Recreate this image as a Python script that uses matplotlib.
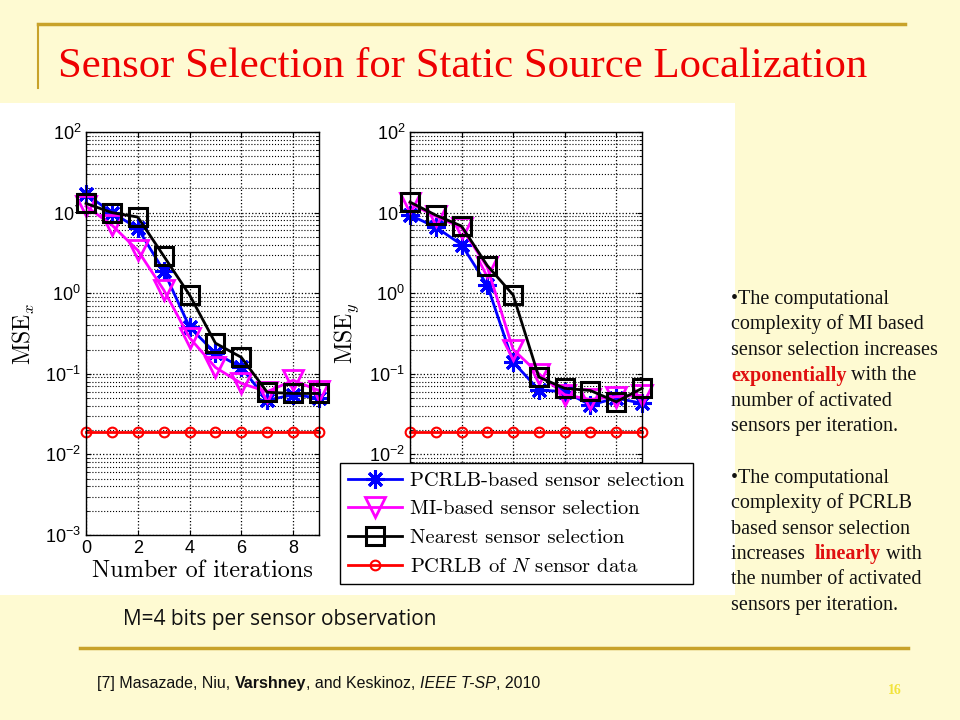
import numpy as np
import matplotlib
matplotlib.use("Agg")
import matplotlib.pyplot as plt
from matplotlib.patches import Rectangle
from matplotlib.lines import Line2D

# datos (MSE vs iteraciones)
iters = np.arange(10)
msex_pcrlb = [17, 10, 6.4, 1.9, 0.38, 0.18, 0.12, 0.047, 0.055, 0.05]
msex_mi = [12, 7, 3.4, 1.1, 0.28, 0.12, 0.076, 0.06, 0.083, 0.062]
msex_nearest = [13, 10, 8.8, 2.9, 0.95, 0.24, 0.16, 0.059, 0.057, 0.057]
msex_bound = [0.019] * 10

msey_pcrlb = [9.3, 6.6, 4.0, 1.25, 0.14, 0.063, 0.06, 0.041, 0.05, 0.043]
msey_mi = [13, 9, 6.5, 2.1, 0.2, 0.1, 0.055, 0.048, 0.052, 0.054]
msey_nearest = [13.5, 9.3, 6.8, 2.2, 0.95, 0.091, 0.066, 0.062, 0.045, 0.066]
msey_bound = [0.019] * 10

labels = ["PCRLB-based sensor selection", "MI-based sensor selection",
          "Nearest sensor selection", "PCRLB of $N$ sensor data"]

plt.rcParams["font.family"] = ["Liberation Sans", "DejaVu Sans"]
plt.rcParams["mathtext.fontset"] = "cm"

W, H = 960, 720
bg = "#FEFAD2"
gold = "#C8A22A"

fig = plt.figure(figsize=(9.6, 7.2), dpi=100)
fig.patch.set_facecolor(bg)


def fx(px):
    return px / W


def fy(py):
    return 1 - py / H


# zona blanca de la imagen
fig.patches.append(Rectangle((0, fy(595)), fx(735), (595 - 103) / H,
                             transform=fig.transFigure, facecolor="white",
                             edgecolor="none", zorder=-5))

# lineas decorativas de la diapositiva
fig.add_artist(Line2D([fx(38), fx(905)], [fy(24), fy(24)], color=gold, lw=2.5))
fig.add_artist(Line2D([fx(38), fx(38)], [fy(24), fy(88)], color=gold, lw=1.5))
fig.add_artist(Line2D([fx(80), fx(908)], [fy(648), fy(648)], color=gold, lw=2.5))

fig.text(fx(58), fy(77), "Sensor Selection for Static Source Localization",
         color="#EE0000", family="Liberation Serif", size=30.8, va="baseline")


def style_axes(ax):
    ax.set_yscale("log")
    ax.set_xlim(0, 9)
    ax.set_ylim(1e-3, 1e2)
    ax.set_xticks([0, 2, 4, 6, 8])
    ax.tick_params(which="both", direction="in", top=True, right=True,
                   labelsize=13)
    ax.grid(True, which="major", ls=":", color="k", lw=0.9)
    ax.yaxis.grid(True, which="minor", ls=":", color="k", lw=0.8)
    for s in ax.spines.values():
        s.set_linewidth(1.0)


def plot_set(ax, pcrlb, mi, nearest, bound):
    ax.plot(iters, pcrlb, color="blue", lw=2, marker=(8, 2, 0), ms=13,
            mew=2.2, label=labels[0], clip_on=False)
    ax.plot(iters, mi, color="magenta", lw=2, marker="v", ms=14,
            mfc="none", mew=2, label=labels[1], clip_on=False)
    ax.plot(iters, nearest, color="black", lw=2, marker="s", ms=13,
            mfc="none", mew=2.2, label=labels[2], clip_on=False)
    ax.plot(iters, bound, color="red", lw=2, marker="o", ms=7,
            mfc="none", mew=1.5, label=labels[3], clip_on=False)


ax1 = fig.add_axes([fx(86), fy(535), (319 - 86) / W, (535 - 132) / H])
plot_set(ax1, msex_pcrlb, msex_mi, msex_nearest, msex_bound)
style_axes(ax1)
ax1.set_ylabel(r"$\mathrm{MSE}_x$", fontsize=17, labelpad=6)
ax1.set_xlabel("Number of iterations", family="cmr10", fontsize=17.5,
               labelpad=2)

ax2 = fig.add_axes([fx(410), fy(535), (642 - 410) / W, (535 - 132) / H])
plot_set(ax2, msey_pcrlb, msey_mi, msey_nearest, msey_bound)
style_axes(ax2)
ax2.tick_params(labelbottom=False)
ax2.set_ylabel(r"$\mathrm{MSE}_y$", fontsize=17, labelpad=6)

h, l = ax2.get_legend_handles_labels()
leg = fig.legend(h, l, loc="lower left", bbox_to_anchor=(fx(340), fy(584)),
                 prop={"family": "cmr10", "size": 14.8}, fancybox=False,
                 framealpha=1, edgecolor="black", handlelength=2.6,
                 borderpad=0.4, labelspacing=0.5, handletextpad=0.4,
                 borderaxespad=0)
leg.get_frame().set_linewidth(1.0)

fig.text(fx(123), fy(620), "M=4 bits per sensor observation",
         family="Open Sans", size=15, va="center", color="#111111")

renderer = fig.canvas.get_renderer()


def draw_pieces(x, y, pieces, family, size):
    for s, color, weight, style in pieces:
        t = fig.text(fx(x), fy(y), s, color=color, weight=weight, style=style,
                     family=family, size=size, va="baseline")
        x += t.get_window_extent(renderer).width


# cita
draw_pieces(97, 688, [("[7] Masazade, Niu, ", "#111111", "normal", "normal"),
                      ("Varshney", "#111111", "bold", "normal"),
                      (", and Keskinoz, ", "#111111", "normal", "normal"),
                      ("IEEE T-SP", "#111111", "normal", "italic"),
                      (", 2010", "#111111", "normal", "normal")],
            ["Liberation Sans Narrow", "Liberation Sans"], 11.5)

fig.text(fx(895), fy(690), "16", color="#F2E33A", family="Liberation Serif",
         size=10, weight="bold", ha="center", va="center")

# texto de la derecha
red = "#E01010"
txt = "#111111"
lines = [
    [("\u2022The computational", txt, "normal", "normal")],
    [("complexity of MI based", txt, "normal", "normal")],
    [("sensor selection increases", txt, "normal", "normal")],
    [("exponentially", red, "bold", "normal"), (" with the", txt, "normal", "normal")],
    [("number of activated", txt, "normal", "normal")],
    [("sensors per iteration.", txt, "normal", "normal")],
    None,
    [("\u2022The computational", txt, "normal", "normal")],
    [("complexity of PCRLB", txt, "normal", "normal")],
    [("based sensor selection", txt, "normal", "normal")],
    [("increases  ", txt, "normal", "normal"), ("linearly", red, "bold", "normal"),
     (" with", txt, "normal", "normal")],
    [("the number of activated", txt, "normal", "normal")],
    [("sensors per iteration.", txt, "normal", "normal")],
]
y0 = 304
for i, ln in enumerate(lines):
    if ln is None:
        continue
    draw_pieces(731, y0 + i * 25.5, ln, "Liberation Serif", 14.5)

fig.savefig("out.png", dpi=100, facecolor=bg)
